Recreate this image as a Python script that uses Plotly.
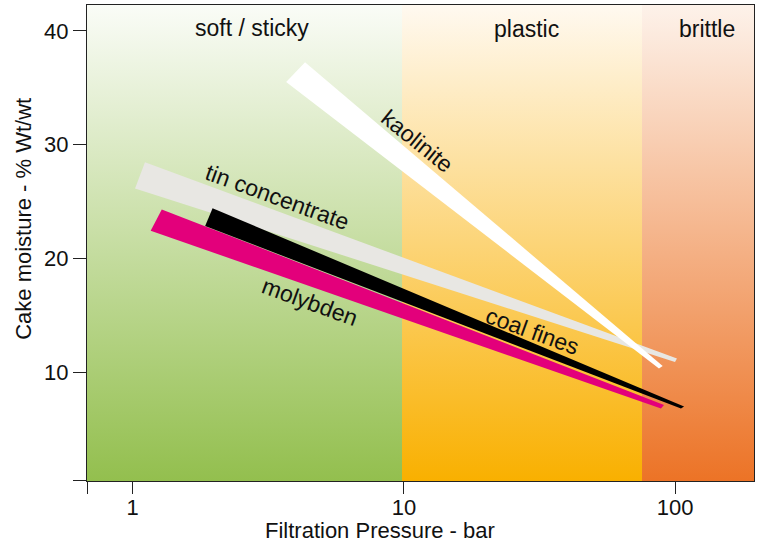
import numpy as np
import plotly.graph_objects as go

# ---------------- data ----------------
# filtration-behaviour zones (pressure in bar)
zone_names = ["soft / sticky", "plastic", "brittle"]
zone_edges = [0.5, 9.84, 75.5, 300.0]

# bands: corner points (pressure bar, cake moisture %wt/wt)
# order of corners: left-upper, left-lower, right-lower, right-upper
kaolinite_p = [4.32, 3.68, 87.2, 90.0]
kaolinite_m = [37.25, 35.5, 10.34, 10.56]

tin_p = [1.11, 1.02, 99.9, 101.6]
tin_m = [28.45, 26.16, 10.91, 11.22]

molybden_p = [1.28, 1.165, 88.7, 91.0]
molybden_m = [24.32, 22.44, 6.83, 7.14]

coal_p = [1.97, 1.85, 105.1, 107.9]
coal_m = [24.41, 22.85, 6.83, 7.0]

x_tickvals = [0.683, 1, 10, 100]
x_ticktext = ["", "1", "10", "100"]
y_tickvals = [0.5, 10, 20, 30, 40]
y_ticktext = ["", "10", "20", "30", "40"]

x_title = "Filtration Pressure - bar"
y_title = "Cake moisture - % Wt/wt"

# ---------------- styles ----------------
Y_LO, Y_HI = 0.465, 42.27
X_RANGE = [-0.1685, 2.2909]
zone_colors = [("#93bf4e", "#fafcf7"), ("#f9b000", "#fff9f0"), ("#ec7326", "#fdf2ea")]
band_colors = {"tin": "#e8e7e3", "kaolinite": "#ffffff", "molybden": "#e3007b", "coal": "#000000"}
FONT = "Liberation Sans, Arial, sans-serif"
TXT = "#111111"

fig = go.Figure()

# zone backgrounds with vertical gradients
for i, name in enumerate(zone_names):
    x0, x1 = zone_edges[i], zone_edges[i + 1]
    bot, top = zone_colors[i]
    fig.add_trace(go.Scatter(
        x=[x0, x1, x1, x0, x0], y=[Y_LO, Y_LO, Y_HI, Y_HI, Y_LO],
        mode="lines", line=dict(width=0), fill="toself",
        fillgradient=dict(type="vertical", colorscale=[[0, bot], [1, top]]),
        hoverinfo="skip", showlegend=False))

def band(px, py, color):
    fig.add_trace(go.Scatter(
        x=px + [px[0]], y=py + [py[0]], mode="lines",
        line=dict(width=0, color=color), fill="toself", fillcolor=color,
        hoverinfo="skip", showlegend=False))

band(tin_p, tin_m, band_colors["tin"])
band(kaolinite_p, kaolinite_m, band_colors["kaolinite"])
band(molybden_p, molybden_m, band_colors["molybden"])
band(coal_p, coal_m, band_colors["coal"])

# zone labels
zone_label_pos = [(2.75, 40.25), (28.2, 40.15), (131.0, 40.15)]
for name, (x, y) in zip(zone_names, zone_label_pos):
    fig.add_annotation(x=np.log10(x), y=y, text=name, showarrow=False,
                       font=dict(family=FONT, size=23, color=TXT))

# band labels
band_labels = [("kaolinite", 11.18, 30.32, 39),
               ("tin concentrate", 3.41, 25.4, 20),
               ("molybden", 4.51, 16.2, 20),
               ("coal fines", 29.7, 13.65, 20)]
for text, x, y, ang in band_labels:
    fig.add_annotation(x=np.log10(x), y=y, text=text, showarrow=False, textangle=ang,
                       font=dict(family=FONT, size=23, color=TXT))

# axis titles
fig.add_annotation(xref="paper", yref="paper", x=0.44, y=-0.104, text=x_title,
                   showarrow=False, xanchor="center", yanchor="middle",
                   font=dict(family=FONT, size=22, color=TXT))
fig.add_annotation(xref="paper", yref="paper", x=-0.095, y=0.55, text=y_title,
                   showarrow=False, textangle=-90, xanchor="center", yanchor="middle",
                   font=dict(family=FONT, size=22, color=TXT))

fig.update_xaxes(type="log", range=X_RANGE, tickvals=x_tickvals, ticktext=x_ticktext,
                 ticks="outside", ticklen=12, tickwidth=1.3, tickcolor="#222222",
                 showline=True, linecolor="#222222", linewidth=1.3, mirror=True,
                 showgrid=False, zeroline=False, automargin=False, ticklabelstandoff=-6,
                 tickfont=dict(family=FONT, size=22, color=TXT))
fig.update_yaxes(range=[Y_LO, Y_HI], tickvals=y_tickvals, ticktext=y_ticktext,
                 ticks="outside", ticklen=13, tickwidth=1.3, tickcolor="#222222",
                 showline=True, linecolor="#222222", linewidth=1.3, mirror=True,
                 showgrid=False, zeroline=False, automargin=False,
                 tickfont=dict(family=FONT, size=22, color=TXT))

fig.update_layout(width=761, height=542, margin=dict(l=87, r=7, t=5, b=61),
                  paper_bgcolor="white", plot_bgcolor="white", showlegend=False)

fig.write_html("out.html", config={"displayModeBar": False},
               post_script="document.body.style.margin='0';document.body.style.overflow='hidden';")
